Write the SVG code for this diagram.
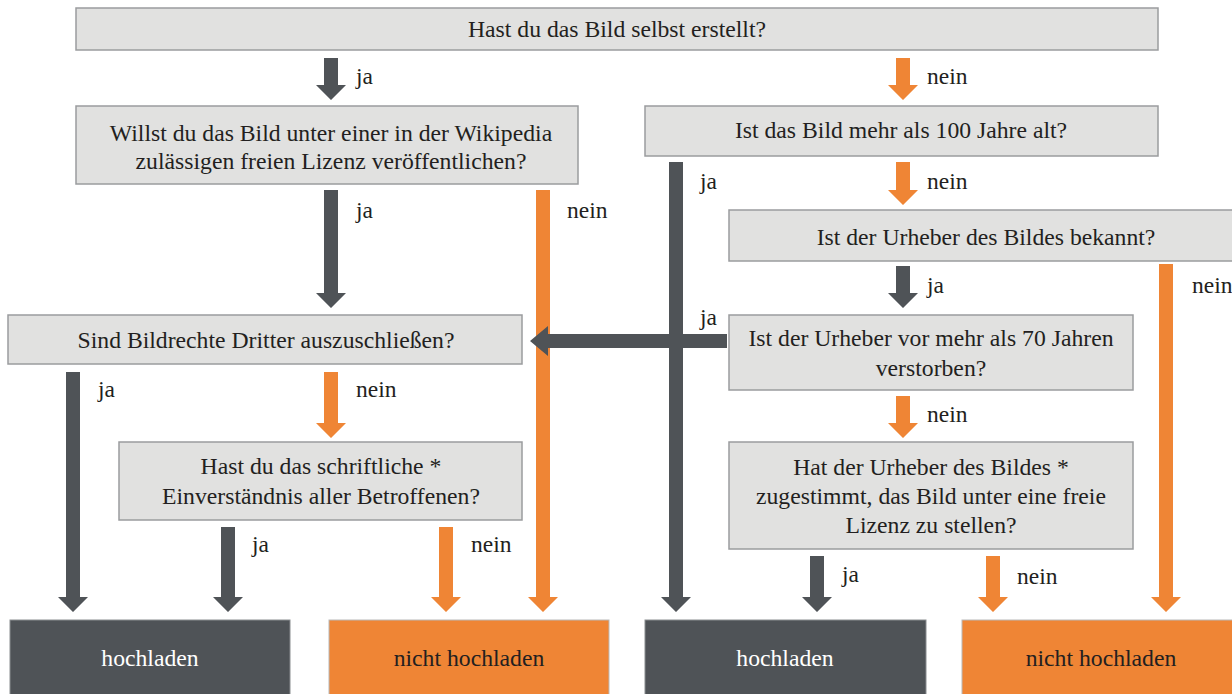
<svg xmlns="http://www.w3.org/2000/svg" width="1232" height="694" viewBox="0 0 1232 694" font-family="'Liberation Serif', 'DejaVu Serif', serif">
<style>
.q{fill:#e1e1e0;stroke:#9a9c9e;stroke-width:1.5}
.dkb{fill:#4f5357;stroke:#8a8d90;stroke-width:1}
.orb{fill:#ef8535;stroke:#b9b9b9;stroke-width:1}
.dk{fill:#4f5357}
.or{fill:#ef8535}
text{font-family:'Liberation Serif','DejaVu Serif',serif;font-size:23.7px;fill:#231f20}
.c{text-anchor:middle}
.w{fill:#ffffff}
.l{font-size:23.5px}
</style>
<rect width="1232" height="694" fill="#ffffff"/>
<g id="connectors">
<path class="dk" d="M324,58H338V85H346L331,100L316,85H324Z"/>
<path class="or" d="M896,58H910V85H918L903,100L888,85H896Z"/>
<path class="dk" d="M669,162H683V597H691L676,612L661,597H669Z"/>
<path class="or" d="M896,162H910V190H918L903,205L888,190H896Z"/>
<path class="dk" d="M324,190H338V293H346L331,308L316,293H324Z"/>
<path class="or" d="M536,190H550V597H558L543,612L528,597H536Z"/>
<path class="dk" d="M896,266H910V293H918L903,308L888,293H896Z"/>
<path class="or" d="M1159,264H1173V597H1181L1166,612L1151,597H1159Z"/>
<path class="dk" d="M727,334V348H548V356L530,341L548,326V334Z"/>
<path class="or" d="M896,396H910V423H918L903,438L888,423H896Z"/>
<path class="dk" d="M66,372H80V597H88L73,612L58,597H66Z"/>
<path class="or" d="M324,372H338V423H346L331,438L316,423H324Z"/>
<path class="dk" d="M221,527H235V597H243L228,612L213,597H221Z"/>
<path class="or" d="M439,527H453V597H461L446,612L431,597H439Z"/>
<path class="dk" d="M810,556H824V597H832L817,612L802,597H810Z"/>
<path class="or" d="M986,556H1000V597H1008L993,612L978,597H986Z"/>
<text class="l" x="356" y="84">ja</text>
<text class="l" x="927" y="84">nein</text>
<text class="l" x="700" y="189">ja</text>
<text class="l" x="927" y="189">nein</text>
<text class="l" x="356" y="218">ja</text>
<text class="l" x="567" y="218">nein</text>
<text class="l" x="927" y="293">ja</text>
<text class="l" x="1192" y="293">nein</text>
<text class="l" x="700" y="325">ja</text>
<text class="l" x="927" y="422">nein</text>
<text class="l" x="98" y="397">ja</text>
<text class="l" x="356" y="397">nein</text>
<text class="l" x="252" y="552">ja</text>
<text class="l" x="471" y="552">nein</text>
<text class="l" x="842" y="582">ja</text>
<text class="l" x="1017" y="584">nein</text>
</g>
<g id="n1"><rect class="q" x="76" y="8" width="1082" height="42"/><text class="c" x="617" y="37">Hast du das Bild selbst erstellt?</text></g>
<g id="n2"><rect class="q" x="76" y="106" width="502" height="78"/><text class="c" x="331" y="141">Willst du das Bild unter einer in der Wikipedia</text><text class="c" x="331" y="169">zulässigen freien Lizenz veröffentlichen?</text></g>
<g id="n3"><rect class="q" x="645" y="106" width="513" height="50"/><text class="c" x="901" y="138">Ist das Bild mehr als 100 Jahre alt?</text></g>
<g id="n4"><rect class="q" x="729" y="210" width="520" height="51"/><text class="c" x="986" y="245">Ist der Urheber des Bildes bekannt?</text></g>
<g id="n5"><rect class="q" x="8" y="315" width="514" height="49"/><text class="c" x="266" y="348">Sind Bildrechte Dritter auszuschließen?</text></g>
<g id="n6"><rect class="q" x="729" y="315" width="404" height="75"/><text class="c" x="931" y="346">Ist der Urheber vor mehr als 70 Jahren</text><text class="c" x="931" y="376">verstorben?</text></g>
<g id="n7"><rect class="q" x="119" y="442" width="403" height="78"/><text class="c" x="321" y="474">Hast du das schriftliche  *</text><text class="c" x="321" y="504">Einverständnis aller Betroffenen?</text></g>
<g id="n8"><rect class="q" x="729" y="442" width="404" height="107"/><text class="c" x="931" y="475">Hat der Urheber des Bildes  *</text><text class="c" x="931" y="504">zugestimmt, das Bild unter eine freie</text><text class="c" x="931" y="533">Lizenz zu stellen?</text></g>
<g id="e1"><rect class="dkb" x="10" y="620" width="280" height="80"/><text class="c w" x="150" y="666">hochladen</text></g>
<g id="e2"><rect class="orb" x="329" y="620" width="280" height="80"/><text class="c" x="469" y="666">nicht hochladen</text></g>
<g id="e3"><rect class="dkb" x="645" y="620" width="281" height="80"/><text class="c w" x="785" y="666">hochladen</text></g>
<g id="e4"><rect class="orb" x="962" y="620" width="290" height="80"/><text class="c" x="1101" y="666">nicht hochladen</text></g>
</svg>
